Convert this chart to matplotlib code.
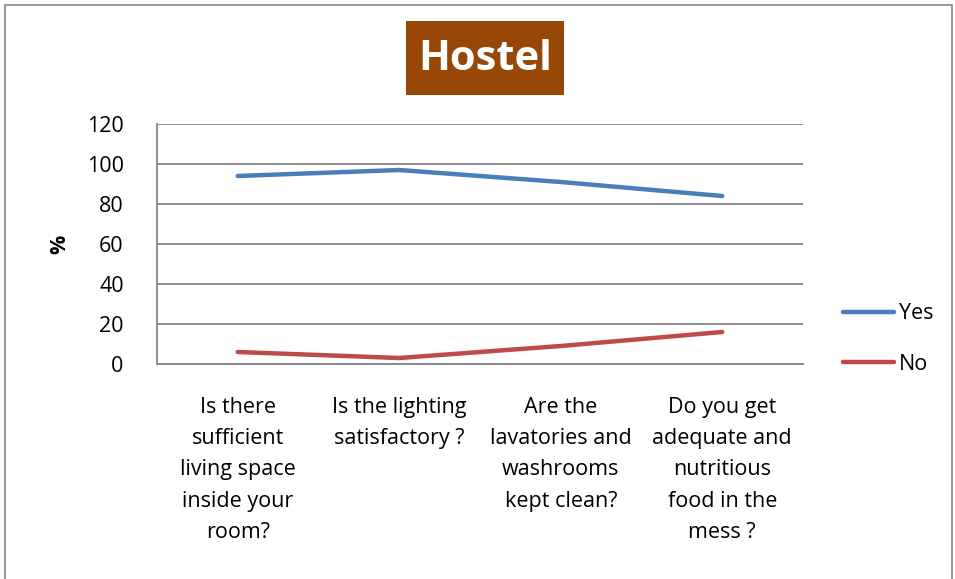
import matplotlib
matplotlib.use('Agg')
import matplotlib.pyplot as plt
from matplotlib.patches import Rectangle

# data
categories = ['Is there\nsufficient\nliving space\ninside your\nroom?',
              'Is the lighting\nsatisfactory ?',
              'Are the\nlavatories and\nwashrooms\nkept clean?',
              'Do you get\nadequate and\nnutritious\nfood in the\nmess ?']
yes = [94, 97, 91, 84]
no = [6, 3, 9, 16]
yticks = [0, 20, 40, 60, 80, 100, 120]

plt.rcParams['font.family'] = ['Open Sans', 'DejaVu Sans']

fig = plt.figure(figsize=(9.55, 5.79), dpi=100)
W, H = 955, 579
# axes box in pixels: left 157, right 803, top 124, bottom 364
ax = fig.add_axes([157/W, 1-364/H, (803-157)/W, (364-124)/H])

x = list(range(len(categories)))
ax.plot(x, yes, color='#4A7EBB', lw=3.2, solid_capstyle='round', label='Yes')
ax.plot(x, no, color='#BE4B48', lw=3.2, solid_capstyle='round', label='No')

ax.set_xlim(-0.5, len(categories)-0.5)
ax.set_ylim(0, 120)
ax.set_yticks(yticks)
ax.set_xticks(x)
ax.set_xticklabels(categories, fontsize=15.5, linespacing=1.63, va='top')
ax.tick_params(axis='both', length=0, labelsize=15.5)
ax.tick_params(axis='x', pad=24)
ax.tick_params(axis='y', pad=24)
ax.grid(axis='y', color='#868686', lw=1.3)
ax.set_axisbelow(True)
for s in ['top', 'right']:
    ax.spines[s].set_visible(False)
ax.spines['left'].set_color('#868686')
ax.spines['bottom'].set_color('#868686')
ax.spines['left'].set_linewidth(1.3)
ax.spines['bottom'].set_linewidth(1.3)

ax.set_ylabel('%', fontsize=15.5, fontweight='bold', labelpad=12)

leg = ax.legend(loc='center left', bbox_to_anchor=(843/W, 1-339/H),
                bbox_transform=fig.transFigure, frameon=False, fontsize=15.5,
                handlelength=2.35, handletextpad=0.25, labelspacing=1.35,
                borderpad=0, borderaxespad=0)

# title box
fig.patches.append(Rectangle((406/W, 1-95/H), (564-406)/W, (95-21)/H,
                             transform=fig.transFigure, facecolor='#974706',
                             edgecolor='none'))
fig.text(485/W, 1-59/H, 'Hostel', color='white', fontsize=30, fontweight='bold',
         ha='center', va='center')

# chart border
fig.patches.append(Rectangle((5/W, -0.01), (952-5)/W, 1-5/H+0.01,
                             transform=fig.transFigure, facecolor='none',
                             edgecolor='#868686', lw=1.2))

fig.savefig('out.png', dpi=100)
